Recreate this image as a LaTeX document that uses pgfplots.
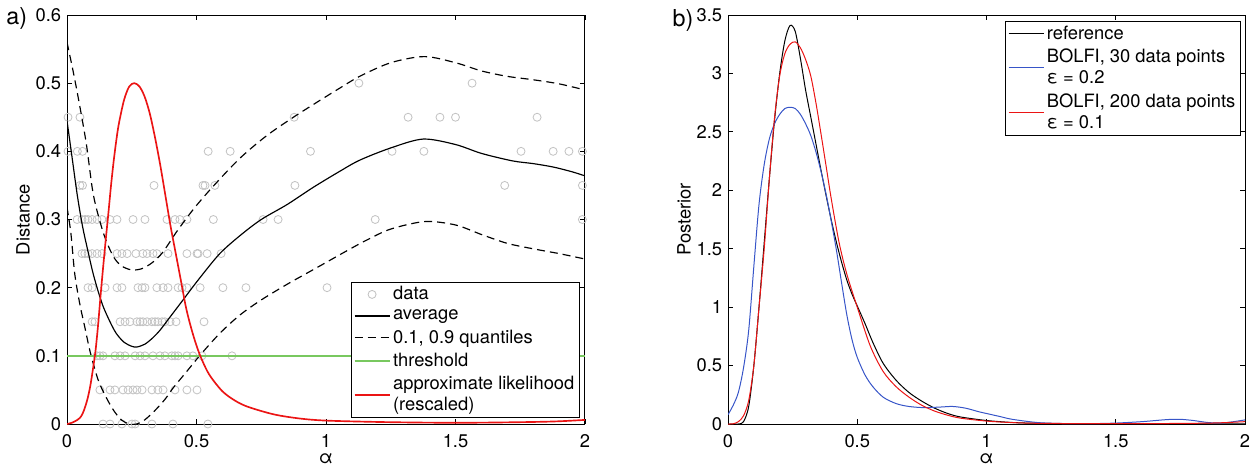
\documentclass[border=0pt]{standalone}
\usepackage{fontspec}
\setmainfont{TeX Gyre Heros}
\usepackage{pgfplots}
\pgfplotsset{compat=1.18}
\definecolor{dgray}{RGB}{195,195,195}
\definecolor{thgreen}{RGB}{120,200,95}
\definecolor{bblue}{RGB}{55,85,200}
\definecolor{rred}{RGB}{235,20,20}
\pgfplotsset{
  common/.style={
    scale only axis, height=245.4pt,
    xmin=0, xmax=2, xtick={0,0.5,1,1.5,2},
    tick pos=both, tick align=inside, major tick length=3pt,
    axis line style={line width=0.6pt},
    every tick/.style={black, line width=0.5pt},
    font=\fontsize{11}{13}\selectfont,
    /pgf/number format/assume math mode=true,
    xticklabel shift=2.5pt,
    xlabel={α}, xlabel style={yshift=3pt},
    ylabel style={yshift=-3.5pt},
    clip mode=individual,
    legend cell align=left,
    legend image code/.code={\draw[mark repeat=2,mark phase=2,##1] plot coordinates {(0cm,0cm) (0.37cm,0cm) (0.74cm,0cm)};},
    legend style={draw=black, fill=white, inner xsep=1.5pt, inner ysep=1pt, row sep=1.3pt, nodes={align=left, inner sep=1.6pt}, font=\fontsize{11}{12.6}\selectfont},
  }
}
\begin{document}
\begin{tikzpicture}
\useasboundingbox (0pt,0pt) rectangle (753pt,279.6pt);
\node[font=\fontsize{14}{16}\selectfont] at (10pt,268.8pt) {a)};
\node[font=\fontsize{14}{16}\selectfont] at (409.8pt,267.6pt) {b)};
\begin{axis}[common, at={(40.2pt,25.2pt)}, anchor=south west, width=310.8pt,
  ymin=0, ymax=0.6, ytick={0,0.1,0.2,0.3,0.4,0.5,0.6}, ylabel={Distance},
  legend style={at={(0.990,0.0147)}, anchor=south east}]
\addplot[only marks, mark=o, mark size=2.4pt, draw=dgray, mark options={line width=0.5pt}] coordinates {
(1.127,0.5)(1.564,0.5)
(0.004,0.45)(0.05,0.45)(0.877,0.45)(1.317,0.45)(1.44,0.45)(1.50,0.45)(1.815,0.45)
(0.004,0.4)(0.04,0.4)(0.06,0.4)(0.545,0.4)(0.63,0.4)(0.94,0.4)(1.255,0.4)(1.378,0.4)(1.753,0.4)(1.877,0.4)(1.938,0.4)(1.99,0.4)
(0.05,0.35)(0.06,0.35)(0.336,0.35)(0.525,0.35)(0.533,0.35)(0.571,0.35)(0.88,0.35)(1.69,0.35)(1.99,0.35)
(0.039,0.3)(0.058,0.3)(0.07,0.3)(0.081,0.3)(0.097,0.3)(0.116,0.3)(0.135,0.3)(0.166,0.3)(0.193,0.3)(0.255,0.3)(0.301,0.3)(0.386,0.3)(0.417,0.3)(0.436,0.3)(0.463,0.3)(0.565,0.3)(0.757,0.3)(0.815,0.3)(1.19,0.3)(1.99,0.3)
(0.058,0.25)(0.069,0.25)(0.081,0.25)(0.097,0.25)(0.116,0.25)(0.135,0.25)(0.193,0.25)(0.212,0.25)(0.232,0.25)(0.266,0.25)(0.293,0.25)(0.309,0.25)(0.332,0.25)(0.347,0.25)(0.390,0.25)(0.463,0.25)(0.502,0.25)(0.506,0.25)(0.541,0.25)(0.595,0.25)
(0.081,0.2)(0.097,0.2)(0.147,0.2)(0.193,0.2)(0.212,0.2)(0.274,0.2)(0.290,0.2)(0.301,0.2)(0.347,0.2)(0.371,0.2)(0.390,0.2)(0.429,0.2)(0.444,0.2)(0.463,0.2)(0.514,0.2)(0.602,0.2)(0.691,0.2)(1.004,0.2)
(0.097,0.15)(0.108,0.15)(0.205,0.15)(0.224,0.15)(0.243,0.15)(0.270,0.15)(0.282,0.15)(0.293,0.15)(0.309,0.15)(0.328,0.15)(0.340,0.15)(0.351,0.15)(0.367,0.15)(0.378,0.15)(0.398,0.15)(0.421,0.15)(0.529,0.15)
(0.116,0.1)(0.127,0.1)(0.139,0.1)(0.185,0.1)(0.205,0.1)(0.224,0.1)(0.263,0.1)(0.282,0.1)(0.301,0.1)(0.332,0.1)(0.359,0.1)(0.378,0.1)(0.405,0.1)(0.417,0.1)(0.429,0.1)(0.463,0.1)(0.486,0.1)(0.521,0.1)(0.637,0.1)
(0.127,0.05)(0.166,0.05)(0.185,0.05)(0.216,0.05)(0.236,0.05)(0.255,0.05)(0.270,0.05)(0.290,0.05)(0.328,0.05)(0.351,0.05)(0.371,0.05)(0.417,0.05)(0.463,0.05)(0.502,0.05)
(0.139,0)(0.166,0)(0.212,0)(0.251,0)(0.263,0)(0.328,0)(0.409,0)(0.544,0)
};
\addlegendentry{data}
\addplot[black, line width=0.7pt, smooth] coordinates {
(0,0.445)(0.02,0.39)(0.04,0.335)(0.06,0.29)(0.08,0.255)(0.10,0.222)(0.12,0.195)(0.14,0.172)(0.166,0.15)(0.19,0.133)(0.22,0.12)(0.25,0.114)(0.27,0.113)(0.30,0.117)(0.33,0.126)(0.36,0.138)(0.40,0.158)(0.45,0.183)(0.51,0.213)(0.59,0.25)(0.67,0.277)(0.75,0.3)(0.85,0.322)(0.95,0.347)(1.05,0.370)(1.13,0.387)(1.25,0.405)(1.375,0.418)(1.5,0.41)(1.6,0.397)(1.72,0.386)(1.8,0.382)(1.877,0.377)(1.95,0.37)(2.0,0.364)
};
\addlegendentry{average}
\addplot[black, line width=0.7pt, dash pattern=on 4.8pt off 3pt, smooth] coordinates {
(0,0.56)(0.025,0.515)(0.05,0.465)(0.075,0.41)(0.10,0.34)(0.125,0.3)(0.15,0.27)(0.18,0.245)(0.21,0.232)(0.25,0.226)(0.29,0.228)(0.33,0.237)(0.37,0.252)(0.425,0.283)(0.49,0.316)(0.565,0.349)(0.668,0.39)(0.771,0.423)(0.874,0.45)(0.965,0.472)(1.05,0.492)(1.13,0.51)(1.25,0.53)(1.38,0.539)(1.5,0.53)(1.6,0.518)(1.7,0.51)(1.8,0.505)(1.9,0.499)(2.0,0.49)
};
\addlegendentry{0.1, 0.9 quantiles}
\addplot[black, line width=0.7pt, dash pattern=on 4.8pt off 3pt, smooth, forget plot] coordinates {
(0,0.318)(0.015,0.28)(0.03,0.22)(0.05,0.175)(0.07,0.14)(0.09,0.105)(0.12,0.065)(0.15,0.04)(0.18,0.02)(0.21,0.006)(0.24,0)(0.27,0)(0.30,0.006)(0.34,0.02)(0.38,0.037)(0.41,0.053)(0.46,0.076)(0.514,0.101)(0.59,0.133)(0.668,0.16)(0.75,0.182)(0.85,0.205)(0.977,0.232)(1.08,0.254)(1.158,0.27)(1.25,0.286)(1.382,0.297)(1.5,0.292)(1.6,0.278)(1.7,0.265)(1.8,0.257)(1.9,0.25)(2.0,0.242)
};
\addplot[thgreen, line width=0.8pt] coordinates {(0,0.1)(2,0.1)};
\addlegendentry{threshold}
\addplot[rred, line width=1pt, smooth] coordinates {
(0,0)(0.02,0.002)(0.04,0.006)(0.05,0.009)(0.06,0.015)(0.07,0.025)(0.08,0.038)(0.09,0.056)(0.10,0.08)(0.11,0.107)(0.12,0.145)(0.13,0.19)(0.14,0.232)(0.15,0.272)(0.16,0.31)(0.17,0.35)(0.18,0.385)(0.19,0.415)(0.20,0.44)(0.22,0.475)(0.24,0.495)(0.26,0.5)(0.28,0.495)(0.30,0.48)(0.32,0.455)(0.34,0.42)(0.36,0.38)(0.38,0.335)(0.40,0.29)(0.42,0.25)(0.44,0.21)(0.46,0.17)(0.48,0.14)(0.50,0.115)(0.52,0.095)(0.55,0.072)(0.60,0.048)(0.65,0.034)(0.70,0.025)(0.8,0.014)(0.9,0.008)(1.0,0.005)(1.2,0.003)(1.4,0.002)(1.6,0.002)(1.8,0.003)(1.9,0.004)(2.0,0.006)
};
\addlegendentry{approximate likelihood\\(rescaled)}
\end{axis}
\begin{axis}[common, at={(436.8pt,25.2pt)}, anchor=south west, width=310.2pt,
  ymin=0, ymax=3.5, ytick={0,0.5,1,1.5,2,2.5,3,3.5}, ylabel={Posterior},
  legend style={at={(0.992,0.985)}, anchor=north east}]
\addplot[black, line width=0.6pt, smooth] coordinates {
(0,0)(0.04,0)(0.06,0.02)(0.08,0.15)(0.10,0.5)(0.12,1.0)(0.14,1.55)(0.16,2.1)(0.18,2.6)(0.20,3.0)(0.22,3.28)(0.24,3.41)(0.26,3.36)(0.28,3.13)(0.30,2.86)(0.32,2.63)(0.34,2.40)(0.36,2.17)(0.38,1.95)(0.40,1.74)(0.42,1.55)(0.44,1.38)(0.46,1.23)(0.48,1.11)(0.50,1.01)(0.53,0.86)(0.56,0.70)(0.60,0.52)(0.65,0.375)(0.70,0.27)(0.75,0.195)(0.80,0.135)(0.85,0.09)(0.9,0.06)(1.0,0.03)(1.1,0.013)(1.2,0.006)(1.4,0.002)(2.0,0.001)
};
\addlegendentry{reference}
\addplot[bblue, line width=0.6pt, smooth] coordinates {
(0,0.08)(0.02,0.16)(0.04,0.27)(0.06,0.48)(0.08,0.8)(0.10,1.35)(0.12,1.88)(0.14,2.22)(0.16,2.44)(0.18,2.57)(0.20,2.65)(0.22,2.70)(0.24,2.71)(0.26,2.70)(0.28,2.65)(0.30,2.57)(0.32,2.47)(0.34,2.33)(0.36,2.16)(0.38,1.96)(0.40,1.73)(0.42,1.48)(0.44,1.2)(0.46,0.93)(0.48,0.72)(0.50,0.57)(0.53,0.42)(0.56,0.32)(0.60,0.23)(0.65,0.175)(0.70,0.15)(0.76,0.14)(0.82,0.145)(0.87,0.15)(0.92,0.135)(0.97,0.105)(1.0,0.09)(1.05,0.065)(1.1,0.04)(1.2,0.012)(1.3,0.004)(1.4,0.003)(1.5,0.008)(1.6,0.02)(1.7,0.038)(1.75,0.04)(1.8,0.03)(1.86,0.012)(1.92,0.01)(2.0,0.035)
};
\addlegendentry{BOLFI, 30 data points\\ε = 0.2}
\addplot[rred, line width=0.6pt, smooth] coordinates {
(0,0)(0.02,0.002)(0.04,0.02)(0.06,0.07)(0.08,0.2)(0.10,0.5)(0.12,1.0)(0.14,1.5)(0.16,2.1)(0.18,2.62)(0.20,2.98)(0.22,3.17)(0.24,3.25)(0.26,3.27)(0.28,3.22)(0.30,3.12)(0.32,2.98)(0.34,2.75)(0.36,2.48)(0.38,2.2)(0.40,1.92)(0.43,1.55)(0.46,1.28)(0.50,1.0)(0.55,0.67)(0.60,0.45)(0.65,0.32)(0.70,0.23)(0.75,0.16)(0.80,0.11)(0.85,0.075)(0.90,0.05)(1.0,0.025)(1.1,0.012)(1.2,0.006)(1.4,0.003)(1.6,0.003)(1.8,0.006)(1.9,0.01)(2.0,0.02)
};
\addlegendentry{BOLFI, 200 data points\\ε = 0.1}
\end{axis}
\end{tikzpicture}
\end{document}
